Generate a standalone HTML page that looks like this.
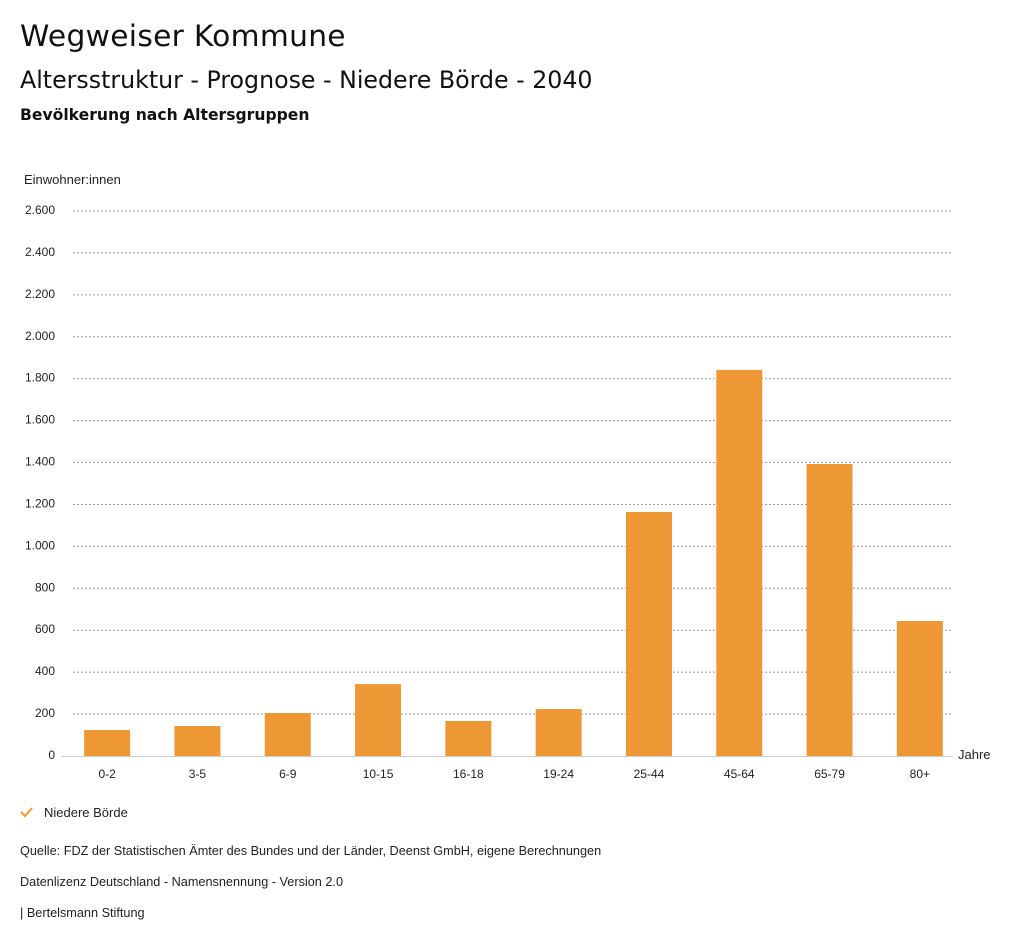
<!DOCTYPE html>
<html><head><meta charset="utf-8">
<style>
body{margin:0;background:#fff;width:1024px;height:946px;overflow:hidden;font-family:"Liberation Sans",sans-serif;color:#111;}
.t1{position:absolute;left:20px;top:19px;font-size:29.7px;font-family:"DejaVu Sans","Liberation Sans",sans-serif;letter-spacing:0.3px}
.t2{position:absolute;left:20px;top:66px;font-size:23.7px;font-family:"DejaVu Sans","Liberation Sans",sans-serif}
.t3{position:absolute;left:20px;top:106px;font-size:15.6px;font-weight:bold;font-family:"DejaVu Sans","Liberation Sans",sans-serif}
.f{position:absolute;left:20px;font-size:12.7px;color:#222}
</style></head><body>
<div class="t1">Wegweiser Kommune</div>
<div class="t2">Altersstruktur - Prognose - Niedere Börde - 2040</div>
<div class="t3">Bevölkerung nach Altersgruppen</div>
<svg id="c" width="1024" height="946" style="position:absolute;left:0;top:0"></svg>
<div class="f" style="top:844px">Quelle: FDZ der Statistischen Ämter des Bundes und der Länder, Deenst GmbH, eigene Berechnungen</div>
<div class="f" style="top:875px">Datenlizenz Deutschland - Namensnennung - Version 2.0</div>
<div class="f" style="top:906px">| Bertelsmann Stiftung</div>
<script>
const categories=["0-2","3-5","6-9","10-15","16-18","19-24","25-44","45-64","65-79","80+"];
const values=[124,143,205,343,167,224,1164,1842,1393,644];
const yTicks=[0,200,400,600,800,1000,1200,1400,1600,1800,2000,2200,2400,2600];
const yTickLabels=["0","200","400","600","800","1.000","1.200","1.400","1.600","1.800","2.000","2.200","2.400","2.600"];
const svg=document.getElementById('c');const NS="http://www.w3.org/2000/svg";
const y0=756,y1=211,x0=62,bw=90.3;
const y=v=>y0-(v/2600)*(y0-y1);
const x=i=>x0+bw*(i+0.5);
function mk(t,a,txt){const e=document.createElementNS(NS,t);for(const k in a)e.setAttribute(k,a[k]);if(txt!=null)e.textContent=txt;svg.appendChild(e);return e;}
let e=mk('text',{x:24,y:184,'font-size':13,fill:'#222'},'Einwohner:innen');


yTicks.forEach((v,i)=>{
  if(v>0){const l=mk('line',{x1:73,x2:953,y1:y(v),y2:y(v),stroke:'#999','stroke-dasharray':'2,2','stroke-width':1});
  
  }
  const t=mk('text',{x:55,y:y(v)+3,'font-size':12,fill:'#222','text-anchor':'end'},yTickLabels[i]);
  
  
});
categories.forEach((c,i)=>{
  const r=mk('rect',{x:x(i)-23,y:y(values[i]),width:46,height:y0-y(values[i]),fill:'#ee9835'});
  
  
  const t=mk('text',{x:x(i),y:778,'font-size':12,fill:'#222','text-anchor':'middle'},c);
  
  
});
const ax=mk('line',{x1:62,x2:953,y1:y0+0.5,y2:y0+0.5,stroke:'#ccc','stroke-width':1});


e=mk('text',{x:958,y:759,'font-size':13,fill:'#222'},'Jahre');


const g=mk('g',{});


const p=document.createElementNS(NS,'path');p.setAttribute('d','M21 812 L25 816 L32 808');p.setAttribute('stroke','#ee9835');p.setAttribute('stroke-width','2');p.setAttribute('fill','none');g.appendChild(p);
const lt=document.createElementNS(NS,'text');lt.setAttribute('x',44);lt.setAttribute('y',817);lt.setAttribute('font-size',13);lt.setAttribute('fill','#222');lt.textContent='Niedere Börde';g.appendChild(lt);
</script>
</body></html>
